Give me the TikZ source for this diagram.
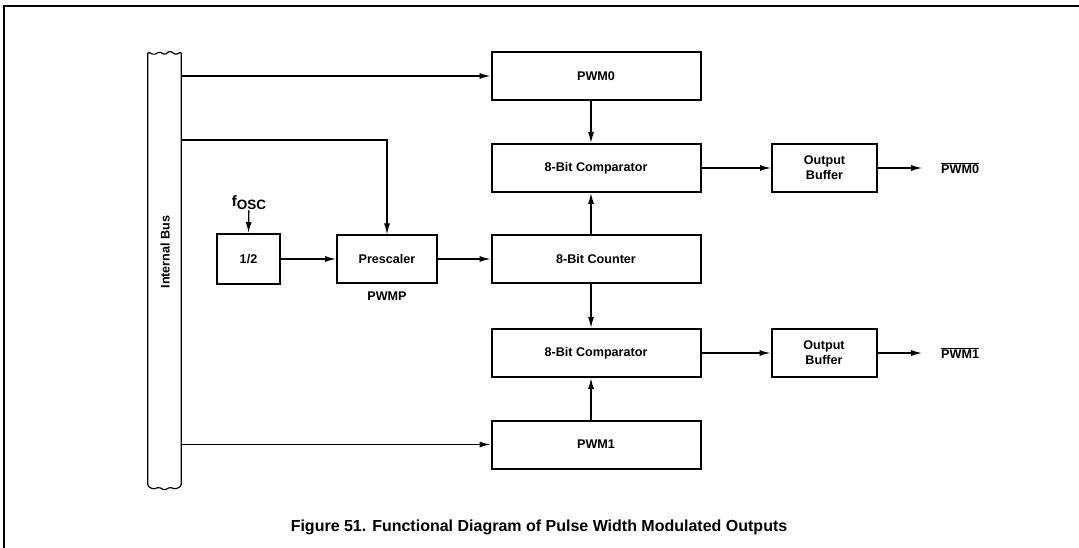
\documentclass[tikz,border=0pt]{standalone}
\usepackage{fontspec}
\setmainfont{Liberation Sans}
\usetikzlibrary{arrows.meta, positioning, calc}
\tikzset{
	block/.style={
			draw=black,
			line width=2pt,
			fill=white,
			inner sep=0pt,
			align=center,
			font=\fontsize{12.6}{13}\selectfont\bfseries
		},
	wideblock/.style={
			block,
			minimum width=209pt,
			minimum height=48pt
		},
	bufblock/.style={
			block,
			minimum width=105pt,
			minimum height=48pt
		},
	conn/.style={
			line width=1.3pt,
			-{Latex[length=11pt,width=6pt]}
		},
	busline/.style={
			line width=1.2pt,
			rounded corners=1.5pt
		},
	sidelabel/.style={
			inner sep=0pt,
			font=\fontsize{12.6}{13}\selectfont\bfseries
		}
}

\begin{document}
\begin{tikzpicture}[x=1pt, y=-1pt]
\useasboundingbox (0,0) rectangle (1079,548);

% sheet border
\draw[line width=2pt] (4,548) -- (4,6) -- (1079,6);

% internal bus
\node[minimum width=33pt, minimum height=434pt, inner sep=0pt] (bus) at (164.5,269) {};
\draw[busline] (bus.north west) -- ++(6,3) -- ++(6,-3) -- ++(5,3) -- ++(5,-4) -- ++(6,4)
	-- (bus.north east) -- (bus.south east) -- ++(-6,3) -- ++(-5,-2) -- ++(-6,3)
	-- ++(-5,-3) -- ++(-6,2) -- (bus.south west) -- cycle;
\node[sidelabel, rotate=90] (buslbl) at (165,252) {Internal Bus};

% blocks
\node[wideblock] (pwm0) at (596,76)  {PWM0};
\node[wideblock] (cmp0) at (596,168) {8-Bit Comparator};
\node[wideblock] (cnt)  at (596,259) {8-Bit Counter};
\node[wideblock] (cmp1) at (596,353) {8-Bit Comparator};
\node[wideblock] (pwm1) at (596,444.5) {PWM1};
\node[bufblock] (buf0) at (824.5,168) {Output\\[2pt]Buffer};
\node[bufblock] (buf1) at (824,353) {Output\\[2pt]Buffer};
\node[block, minimum width=63pt, minimum height=50pt] (half) at (248.5,259) {1/2};
\node[block, minimum width=100pt, minimum height=47pt] (pre) at (387,259) {Prescaler};

% labels
\node[sidelabel] (fosc) at (249,203) {\fontsize{15}{16}\selectfont f\fontsize{13.5}{14}\selectfont\raisebox{-0.45ex}{OSC}};
\node[sidelabel] (pwmp) at (387,296) {PWMP};
\node[sidelabel, anchor=west] (out0) at (941,168) {$\overline{\mbox{PWM0}}$};
\node[sidelabel, anchor=west] (out1) at (941,353) {$\overline{\mbox{PWM1}}$};
\coordinate (end0) at (922,168);
\coordinate (end1) at (922,353);
\coordinate (tap) at (bus.east |- 0,140);

% connections
\draw[conn] (bus.east |- pwm0.west) -- (pwm0.west);
\draw[conn] (tap) -| (pre.north);
\draw[conn] (bus.east |- pwm1.west) -- (pwm1.west);
\draw[conn] (fosc) -- (half.north);
\draw[conn] (half.east) -- (pre.west);
\draw[conn] (pre.east) -- (cnt.west);
\draw[conn] ([xshift=-5pt]pwm0.south) -- ([xshift=-5pt]cmp0.north);
\draw[conn] ([xshift=-5pt]cnt.north) -- ([xshift=-5pt]cmp0.south);
\draw[conn] ([xshift=-5pt]cnt.south) -- ([xshift=-5pt]cmp1.north);
\draw[conn] ([xshift=-5pt]pwm1.north) -- ([xshift=-5pt]cmp1.south);
\draw[conn] (cmp0.east) -- (buf0.west);
\draw[conn] (cmp1.east) -- (buf1.west);
\draw[conn] (buf0.east) -- (end0);
\draw[conn] (buf1.east) -- (end1);

% caption
\node[font=\fontsize{16}{18}\selectfont\bfseries] (caption) at (539,527)
	{Figure 51. Functional Diagram of Pulse Width Modulated Outputs};
\end{tikzpicture}
\end{document}
